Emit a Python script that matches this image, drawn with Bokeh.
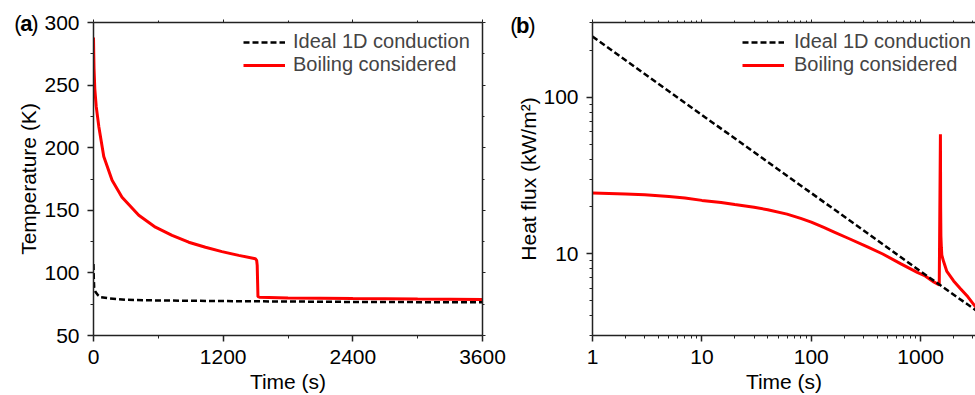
from bokeh.plotting import figure
from bokeh.layouts import row
from bokeh.models import (LinearAxis, LogAxis, Range1d, Legend, LegendItem,
                          FixedTicker, CustomJSTickFormatter, PrintfTickFormatter)
from bokeh.embed import file_html
from bokeh.resources import INLINE

# ---------------- data ----------------
# Panel (a): temperature vs time
a_ideal_t = [0, 3, 6, 12, 21, 40, 67, 150, 300, 600, 1200, 2400, 3600]
a_ideal_T = [107, 95, 88.6, 86, 84.5, 82.3, 80.5, 79.6, 78.5, 78.0, 77.5, 76.8, 76.5]

a_boil_t = [0, 2, 5, 12, 25, 49, 95, 172, 264, 419, 573, 727, 881, 1036, 1189, 1344,
            1498, 1510, 1515, 1519, 1522, 1535, 1800, 2400, 3000, 3600]
a_boil_T = [288, 276, 263, 247, 233, 217, 193, 174, 160.5, 146, 136.5, 130, 124.5, 120.5,
            117, 114, 111.3, 110, 106, 92, 81, 80.6, 80.0, 79.5, 79.1, 78.8]

# Panel (b): heat flux vs time (log-log)
b_ideal_t = [1, 10, 100, 1000, 3600]
b_ideal_q = [244, 77, 24.4, 7.7, 4.1]

b_boil_t = [1, 2, 3, 5, 7, 10, 15, 20, 30, 40, 60, 80, 100, 130, 160, 220, 330, 450, 660,
            930, 1100, 1316, 1478, 1515, 1522, 1530, 1545, 1560, 1620, 1735, 2000, 2300,
            2700, 3150, 3600]
b_boil_q = [24.4, 24.1, 23.8, 23.2, 22.7, 21.9, 21.2, 20.6, 19.8, 19.1, 17.9, 16.8, 15.9,
            14.7, 13.8, 12.5, 11.0, 9.95, 8.6, 7.6, 7.2, 6.6, 6.3, 58, 20, 13, 11, 9.8,
            8.9, 7.7, 6.7, 6.0, 5.3, 4.6, 4.2]

a_xticks = [0, 1200, 2400, 3600]
a_xminor = [600, 1800, 3000]
a_yticks = [50, 100, 150, 200, 250, 300]
a_yminor = [75, 125, 175, 225, 275]
b_xticks = [1, 10, 100, 1000]
b_xminor = [2, 3, 4, 5, 6, 7, 8, 9, 20, 30, 40, 50, 60, 70, 80, 90,
            200, 300, 400, 500, 600, 700, 800, 900, 2000, 3000]
b_yticks = [10, 100]
b_yminor = [3, 4, 5, 6, 7, 8, 9, 20, 30, 40, 50, 60, 70, 80, 90, 200, 300]

legend_labels = ["Ideal 1D conduction", "Boiling considered"]
panel_letters = ["a", "b"]

FONT = "Liberation Sans"
TICK_FS = "21px"
LABEL_FS = "21px"
LEG_FS = "20px"
PANEL_FS = "22px"
RED = "#ff0000"
DASH = "6 3"
AX = "#222222"

empty_fmt = CustomJSTickFormatter(code="return ''")


def style_main_axis(ax, label=None, label_standoff=3):
    if label:
        ax.axis_label = label
        ax.axis_label_text_font = FONT
        ax.axis_label_text_font_size = LABEL_FS
        ax.axis_label_text_font_style = "normal"
        ax.axis_label_text_color = "black"
        ax.axis_label_standoff = label_standoff
    ax.major_label_text_font = FONT
    ax.major_label_text_font_size = TICK_FS
    ax.major_label_text_color = "black"
    ax.major_label_standoff = 8
    ax.major_tick_out = 6
    ax.major_tick_in = 0
    ax.minor_tick_out = 3
    ax.minor_tick_in = 0
    ax.axis_line_color = AX
    ax.axis_line_width = 1.5
    ax.major_tick_line_color = AX
    ax.major_tick_line_width = 1.5
    ax.minor_tick_line_color = AX
    ax.minor_tick_line_width = 1


def style_mirror_axis(ax):
    ax.formatter = empty_fmt
    ax.major_label_standoff = 0
    ax.major_tick_out = 3
    ax.major_tick_in = 0
    ax.minor_tick_out = 2
    ax.minor_tick_in = 0
    ax.axis_line_color = AX
    ax.axis_line_width = 1.5
    ax.major_tick_line_color = AX
    ax.minor_tick_line_color = AX


def text_axis(axis_cls, tick, text, bold, standoff, label=None, label_standoff=0):
    """A bare axis (no line, no ticks) that only carries one piece of text at one position."""
    ax = axis_cls(ticker=FixedTicker(ticks=[tick], minor_ticks=[]),
                  formatter=CustomJSTickFormatter(code="return %r;" % text))
    ax.axis_line_color = None
    ax.major_tick_line_color = None
    ax.minor_tick_line_color = None
    ax.major_tick_out = 0
    ax.major_tick_in = 0
    ax.minor_tick_out = 0
    ax.minor_tick_in = 0
    ax.major_label_standoff = standoff
    ax.major_label_text_font = FONT
    ax.major_label_text_font_size = PANEL_FS
    ax.major_label_text_color = "black"
    ax.major_label_text_font_style = "bold" if bold else "normal"
    if label:
        ax.axis_label = label
        ax.axis_label_text_font = FONT
        ax.axis_label_text_font_size = LABEL_FS
        ax.axis_label_text_font_style = "normal"
        ax.axis_label_text_color = "black"
        ax.axis_label_standoff = label_standoff
    return ax


def add_panel_tag(p, axis_cls, tick, letter, standoff, ylabel, ylabel_standoff):
    # stacked outward from the tick-label column: ")"  then bold letter  then "(" (+ y title)
    p.add_layout(text_axis(axis_cls, tick, ")", False, standoff), "left")
    p.add_layout(text_axis(axis_cls, tick, letter, True, -4), "left")
    p.add_layout(text_axis(axis_cls, tick, "(", False, -4, ylabel, ylabel_standoff), "left")


# ---------------- panel (a) ----------------
pa = figure(width=507, height=395, output_backend="svg", toolbar_location=None,
            x_range=Range1d(0, 3600), y_range=Range1d(50, 300),
            min_border_left=93, min_border_right=25, min_border_top=22, min_border_bottom=60,
            x_axis_location=None, y_axis_location=None)
pa.grid.visible = False
pa.outline_line_color = None
pa.background_fill_color = "white"
pa.border_fill_color = "white"

ax_b = LinearAxis(ticker=FixedTicker(ticks=a_xticks, minor_ticks=a_xminor))
style_main_axis(ax_b, "Time (s)", 3)
pa.add_layout(ax_b, "below")
ax_l = LinearAxis(ticker=FixedTicker(ticks=a_yticks, minor_ticks=a_yminor))
style_main_axis(ax_l)
pa.add_layout(ax_l, "left")
add_panel_tag(pa, LinearAxis, 299, panel_letters[0], 3, "Temperature (K)", -29)
ax_t = LinearAxis(ticker=FixedTicker(ticks=a_xticks, minor_ticks=a_xminor))
style_mirror_axis(ax_t)
pa.add_layout(ax_t, "above")
ax_r = LinearAxis(ticker=FixedTicker(ticks=a_yticks, minor_ticks=a_yminor))
style_mirror_axis(ax_r)
pa.add_layout(ax_r, "right")

ra_i = pa.line(a_ideal_t, a_ideal_T, line_color="black", line_width=2.5, line_dash=DASH)
ra_b = pa.line(a_boil_t, a_boil_T, line_color=RED, line_width=3)

leg_a = Legend(items=[LegendItem(label=legend_labels[0], renderers=[ra_i]),
                      LegendItem(label=legend_labels[1], renderers=[ra_b])],
               location=(150, 259), glyph_width=42, glyph_height=20, label_standoff=8,
               label_height=20, spacing=0, padding=2, margin=0,
               label_text_font=FONT, label_text_font_size=LEG_FS,
               background_fill_alpha=0, border_line_color=None)
pa.add_layout(leg_a, "center")

# ---------------- panel (b) ----------------
pb = figure(width=468, height=395, output_backend="svg", toolbar_location=None,
            x_axis_type="log", y_axis_type="log",
            x_range=Range1d(1, 3170), y_range=Range1d(3, 300),
            min_border_left=85, min_border_right=0, min_border_top=22, min_border_bottom=60,
            x_axis_location=None, y_axis_location=None)
pb.grid.visible = False
pb.outline_line_color = None
pb.background_fill_color = "white"
pb.border_fill_color = "white"

bx_b = LogAxis(ticker=FixedTicker(ticks=b_xticks, minor_ticks=b_xminor),
               formatter=PrintfTickFormatter(format="%d"))
style_main_axis(bx_b, "Time (s)", 3)
pb.add_layout(bx_b, "below")
bx_l = LogAxis(ticker=FixedTicker(ticks=b_yticks, minor_ticks=b_yminor),
               formatter=PrintfTickFormatter(format="%d"))
style_main_axis(bx_l)
pb.add_layout(bx_l, "left")
add_panel_tag(pb, LogAxis, 288, panel_letters[1], 5, "Heat flux (kW/m²)", -33)
bx_t = LogAxis(ticker=FixedTicker(ticks=b_xticks, minor_ticks=b_xminor))
style_mirror_axis(bx_t)
pb.add_layout(bx_t, "above")

rb_b = pb.line(b_boil_t, b_boil_q, line_color=RED, line_width=3)
rb_i = pb.line(b_ideal_t, b_ideal_q, line_color="black", line_width=2.5, line_dash=DASH)

leg_b = Legend(items=[LegendItem(label=legend_labels[0], renderers=[rb_i]),
                      LegendItem(label=legend_labels[1], renderers=[rb_b])],
               location=(150, 259), glyph_width=42, glyph_height=20, label_standoff=10,
               label_height=20, spacing=0, padding=2, margin=0,
               label_text_font=FONT, label_text_font_size=LEG_FS,
               background_fill_alpha=0, border_line_color=None)
pb.add_layout(leg_b, "center")

layout = row(pa, pb)
open("out.html", "w").write(file_html(layout, INLINE))
